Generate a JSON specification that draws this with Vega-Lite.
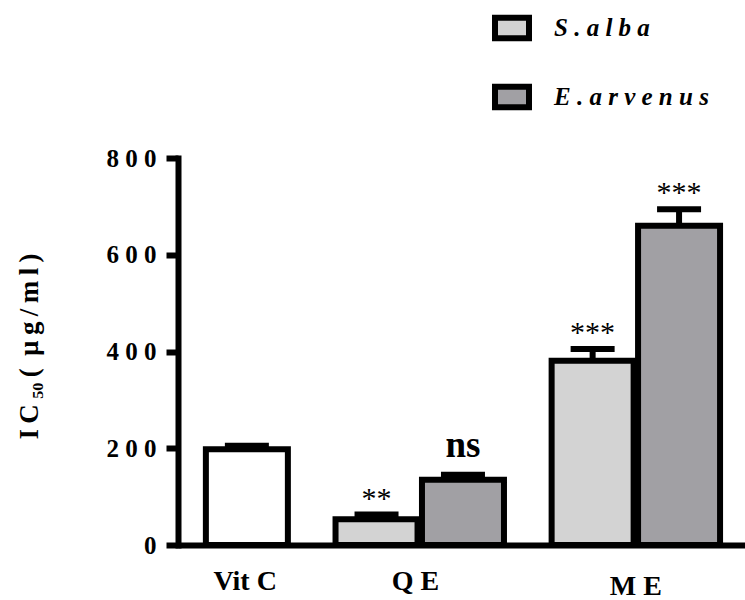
{
  "$schema": "https://vega.github.io/schema/vega-lite/v6.json",
  "width": 567,
  "height": 387,
  "autosize": "none",
  "padding": {"left": 178, "top": 158, "right": 0, "bottom": 55},
  "background": "white",
  "config": {
    "view": {"stroke": null},
    "axis": {"grid": false, "domainColor": "black", "tickColor": "black", "labelColor": "black", "titleColor": "black", "labelFont": "Liberation Serif", "titleFont": "Liberation Serif", "labelFontWeight": "bold", "titleFontWeight": "bold"}
  },
  "datasets": {
    "bars": [
      {"group": "Vit C", "species": "Vit C", "pos": 0, "value": 198, "upper": 205, "sig": ""},
      {"group": "QE", "species": "S.alba", "pos": 1.5, "value": 53, "upper": 63, "sig": "**"},
      {"group": "QE", "species": "E.arvenus", "pos": 2.5, "value": 135, "upper": 145, "sig": "ns"},
      {"group": "ME", "species": "S.alba", "pos": 4, "value": 381, "upper": 405, "sig": "***"},
      {"group": "ME", "species": "E.arvenus", "pos": 5, "value": 660, "upper": 694, "sig": "***"}
    ],
    "groups": [
      {"label": "Vit C", "pos": -0.02},
      {"label": "Q E", "pos": 1.95},
      {"label": "M E", "pos": 4.5}
    ]
  },
  "layer": [
    {
      "data": {"name": "bars"},
      "mark": {"type": "bar", "orient": "vertical", "size": 82, "stroke": "black", "strokeWidth": 6, "opacity": 1},
      "encoding": {
        "x": {"field": "pos", "type": "quantitative", "title": null,
              "scale": {"domain": [-0.739, 5.705], "nice": false, "zero": false},
              "axis": {"domainWidth": 6, "ticks": false, "labels": false, "title": null, "grid": false}},
        "y": {"field": "value", "type": "quantitative", "stack": null,
              "title": "I\u2009C\u2009\u2085\u2080\u2009(\u2009 \u00b5\u2009g\u2009/\u2009m\u2009l\u2009)",
              "scale": {"domain": [0, 800], "nice": false},
              "axis": {"values": [0, 200, 400, 600, 800], "domainWidth": 6, "domainCap": "square", "tickWidth": 6, "tickSize": 12,
                       "labelFontSize": 25, "labelPadding": 10, "labelExpr": "join(split(datum.label, ''), ' ')",
                       "titleFontSize": 27, "titleX": -141, "titleY": 188, "titleBaseline": "alphabetic", "titleAngle": -90, "titleAlign": "center", "grid": false}},
        "color": {"field": "species", "type": "nominal",
                  "scale": {"domain": ["S.alba", "E.arvenus", "Vit C"], "range": ["#d3d3d3", "#a1a0a4", "#ffffff"]},
                  "legend": {"orient": "none", "legendX": 314, "legendY": -150, "title": null, "values": ["S.alba", "E.arvenus"],
                             "padding": 0, "symbolType": "M-1,-0.6H1V0.6H-1Z", "symbolSize": 1156, "symbolStrokeColor": "black", "symbolStrokeWidth": 6, "symbolOpacity": 1,
                             "labelFont": "Liberation Serif", "labelFontSize": 25, "labelFontStyle": "italic", "labelFontWeight": "bold", "labelColor": "black",
                             "labelOffset": 22, "rowPadding": 23, "labelLimit": 300, "labelExpr": "join(split(datum.label, ''), ' ')"}}
      }
    },
    {
      "data": {"name": "bars"},
      "mark": {"type": "rule", "color": "black", "strokeWidth": 6},
      "encoding": {
        "x": {"field": "pos", "type": "quantitative", "title": null},
        "y": {"field": "value", "type": "quantitative"},
        "y2": {"field": "upper"}
      }
    },
    {
      "data": {"name": "bars"},
      "mark": {"type": "tick", "orient": "horizontal", "color": "black", "size": 44, "thickness": 6, "opacity": 1},
      "encoding": {
        "x": {"field": "pos", "type": "quantitative", "title": null},
        "y": {"field": "upper", "type": "quantitative"}
      }
    },
    {
      "data": {"name": "bars"},
      "transform": [{"filter": "indexof(datum.sig, '*') >= 0"}],
      "mark": {"type": "text", "font": "Liberation Serif", "fontSize": 30, "color": "black", "baseline": "alphabetic", "align": "center", "dy": -7},
      "encoding": {
        "x": {"field": "pos", "type": "quantitative", "title": null},
        "y": {"field": "upper", "type": "quantitative"},
        "text": {"field": "sig"}
      }
    },
    {
      "data": {"name": "bars"},
      "transform": [{"filter": "datum.sig == 'ns'"}],
      "mark": {"type": "text", "font": "Liberation Serif", "fontSize": 37, "fontWeight": "bold", "color": "black", "baseline": "alphabetic", "align": "center", "dy": -18},
      "encoding": {
        "x": {"field": "pos", "type": "quantitative", "title": null},
        "y": {"field": "upper", "type": "quantitative"},
        "text": {"field": "sig"}
      }
    },
    {
      "data": {"name": "groups"},
      "transform": [{"filter": "datum.label != 'M E'"}],
      "mark": {"type": "text", "font": "Liberation Serif", "fontSize": 28, "fontWeight": "bold", "color": "black", "baseline": "middle", "align": "center", "dy": 37},
      "encoding": {
        "x": {"field": "pos", "type": "quantitative", "title": null},
        "y": {"datum": 0, "type": "quantitative"},
        "text": {"field": "label"}
      }
    },
    {
      "data": {"name": "groups"},
      "transform": [{"filter": "datum.label == 'M E'"}],
      "mark": {"type": "text", "font": "Liberation Serif", "fontSize": 28, "fontWeight": "bold", "color": "black", "baseline": "middle", "align": "center", "dy": 42},
      "encoding": {
        "x": {"field": "pos", "type": "quantitative", "title": null},
        "y": {"datum": 0, "type": "quantitative"},
        "text": {"field": "label"}
      }
    }
  ]
}
